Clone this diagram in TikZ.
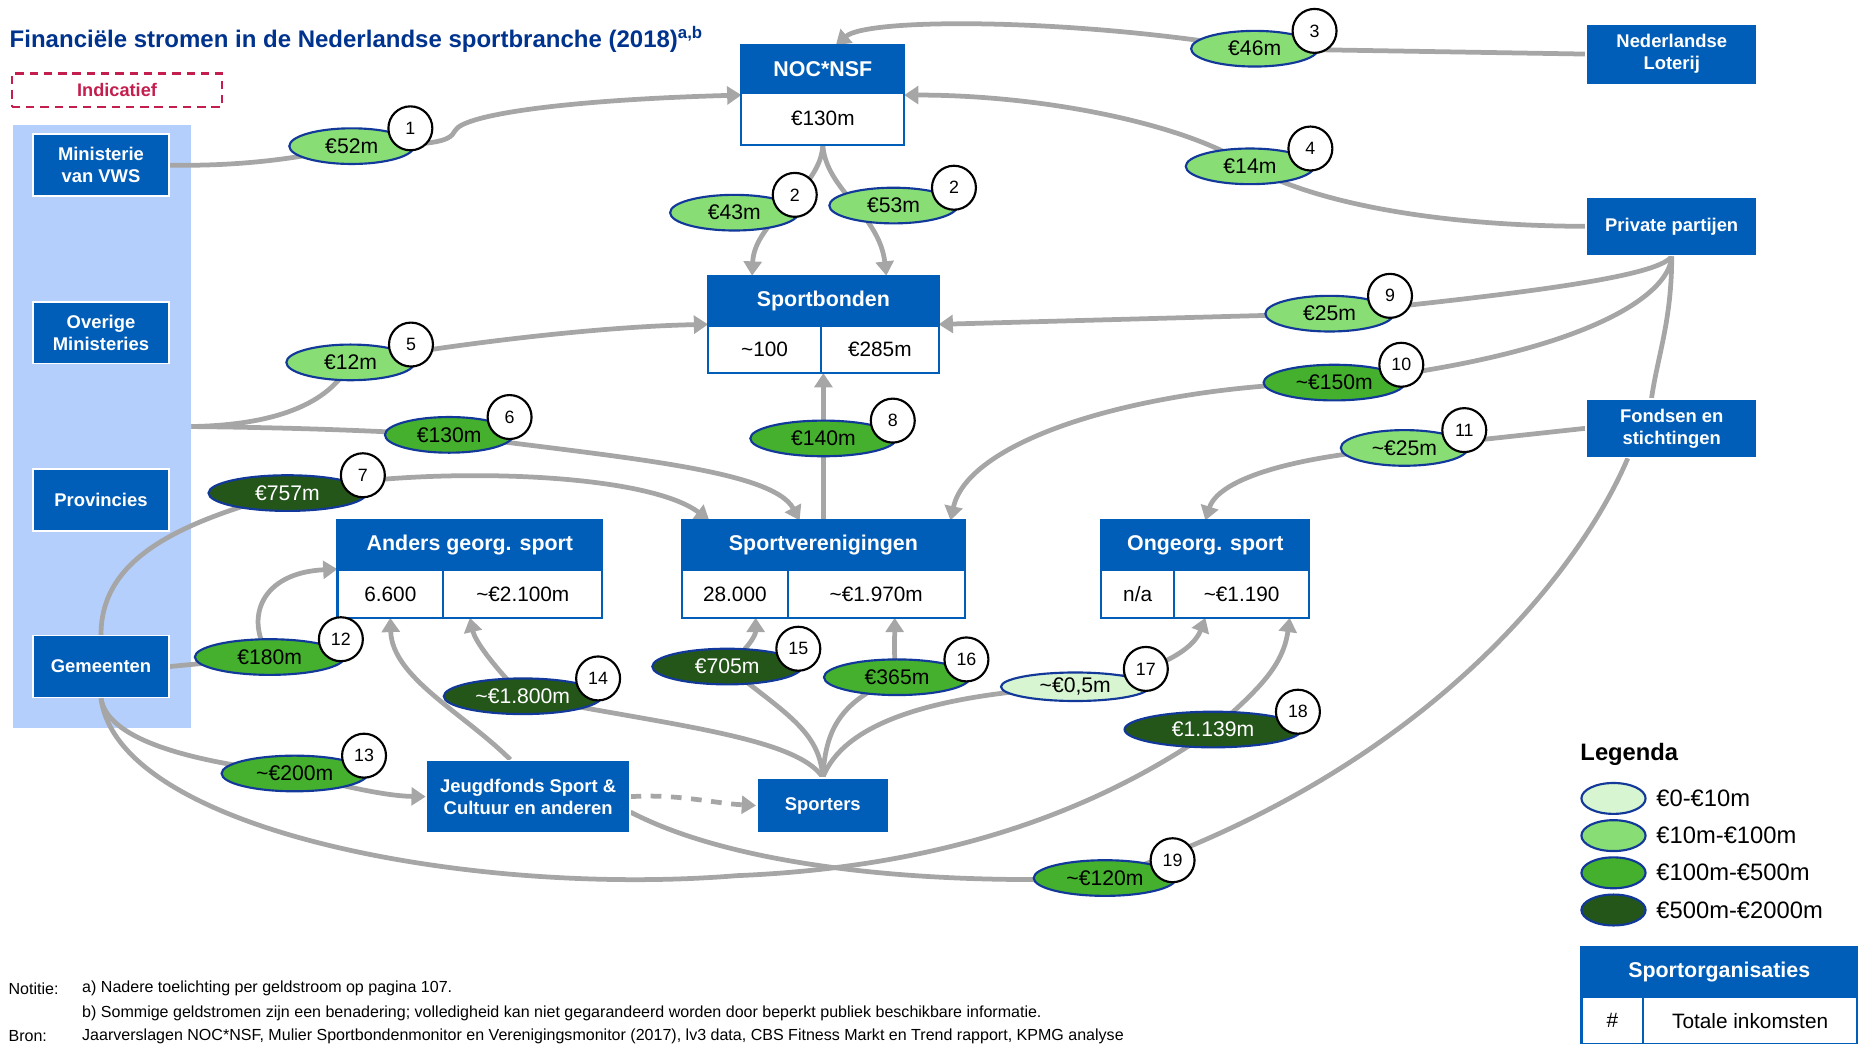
\documentclass[tikz,border=0pt]{standalone}
\usepackage{fontspec}
\setmainfont{Liberation Sans}
\usetikzlibrary{arrows.meta,calc,positioning,fit,backgrounds,shapes.geometric}
\definecolor{kpmgblue}{HTML}{005EB8}
\definecolor{kpmgnavy}{HTML}{00338D}
\definecolor{govblue}{HTML}{B4CFFB}
\definecolor{flowgrey}{HTML}{A6A6A6}
\definecolor{ringblue}{HTML}{12399A}
\definecolor{indicred}{HTML}{C41E4E}
\definecolor{gLight}{HTML}{D6F5D0}
\definecolor{gMid}{HTML}{88DD75}
\definecolor{gGreen}{HTML}{44B02D}
\definecolor{gDark}{HTML}{24561A}
\tikzset{
  actor/.style={
    fill=kpmgblue,
    draw=white,
    line width=1.4pt,
    text=white,
    font=\fontsize{15.5}{18.5}\selectfont\bfseries,
    align=center,
    inner sep=0pt
  },
  orghead/.style={fill=kpmgblue, draw=kpmgblue, line width=1.8pt, text=white,
    font=\fontsize{18}{21}\selectfont\bfseries, minimum height=42pt, inner sep=0pt, outer sep=0pt},
  orgcell/.style={fill=white, draw=kpmgblue, line width=1.8pt,
    font=\fontsize{17.5}{20}\selectfont, minimum height=40pt, inner sep=0pt, outer sep=0pt},
  money/.style={ellipse, draw=ringblue, line width=1.8pt, minimum height=30pt, inner sep=0pt,
    font=\fontsize{17.8}{20}\selectfont},
  lvl0/.style={money, fill=gLight},
  lvl1/.style={money, fill=gMid},
  lvl2/.style={money, fill=gGreen},
  lvl3/.style={money, fill=gDark, text=white},
  tag/.style={circle, draw=black, fill=white, line width=1.8pt, minimum size=37pt, inner sep=0pt,
    font=\fontsize{15}{17}\selectfont},
  legdot/.style={ellipse, draw=ringblue, line width=1.8pt, minimum width=54pt, minimum height=26pt, inner sep=0pt},
  flowline/.style={draw=flowgrey, line width=4pt},
  flowarrow/.style={flowline, -{Triangle[width=15pt,length=12pt]}},
  ttl/.style={font=\fontsize{20.2}{24}\selectfont\bfseries, inner sep=0pt, anchor=west},
  lbl/.style={font=\fontsize{20}{24}\selectfont, inner sep=0pt, anchor=west},
  note/.style={font=\fontsize{13.5}{16}\selectfont, inner sep=0pt, anchor=west},
  indic/.style={draw=indicred, line width=2pt, dash pattern=on 7pt off 5pt, text=indicred,
    minimum width=177pt, minimum height=28pt, font=\fontsize{15.3}{18}\selectfont\bfseries},
}
\newcommand{\Flow}[6]{%
  \node[#4, minimum width=#5] (#1) at (#2) {#3};
  \node[tag] (#1n) at ($(#1.east)+(-4,-15)$) {#6};
}
\newcommand{\OrgBox}[7]{%
  \node[orghead, minimum width=#3, anchor=north west] (#1h) at (#2) {#5};
  \node[orgcell, minimum width=#4, anchor=north west] (#1n) at (#1h.south west) {#6};
  \node[orgcell, minimum width=#3-#4, anchor=north west] (#1v) at (#1n.north east) {#7};
  \node[fit=(#1h)(#1n)(#1v), inner sep=0pt, outer sep=0pt] (#1) {};
}
\begin{document}
\begin{tikzpicture}[x=1pt, y=-1pt]
  \useasboundingbox (0,0) rectangle (1568,878);
  \scoped[on background layer]{\node[fill=govblue, minimum width=150pt, minimum height=508pt,
    inner sep=0pt, outer sep=0pt, anchor=north west] (overheid) at (11,105) {};}

  \node[ttl, text=kpmgnavy] (title) at (8,33) {Financiële stromen in de Nederlandse sportbranche (2018)\textsuperscript{a,b}};
  \node[indic] (indic) at (98.5,76) {Indicatief};

  % actoren
  \foreach \nm/\y/\t in {vws/139/{Ministerie\\van VWS}, ovm/280/{Overige\\Ministeries},
      prov/421/{Provincies}, gem/561/{Gemeenten}} {
    \node[actor, minimum width=114pt, minimum height=52pt] (\nm) at (85,\y) {\t};
  }
  \node[actor, minimum width=144pt, minimum height=51pt] (lot) at (1407,45.5) {Nederlandse\\Loterij};
  \node[actor, minimum width=144pt, minimum height=49pt] (priv) at (1407,190.5) {Private partijen};
  \node[actor, minimum width=144pt, minimum height=49pt] (fond) at (1407,360.5) {Fondsen en\\stichtingen};
  \node[actor, minimum width=171pt, minimum height=61pt] (jf) at (444.5,670.5) {Jeugdfonds Sport \&\\Cultuur en anderen};
  \node[actor, minimum width=111pt, minimum height=46pt] (sp) at (692.5,678) {Sporters};

  % sportorganisaties
  \node[orghead, minimum width=137pt, minimum height=40pt, anchor=north west] (noch) at (624,38) {NOC*NSF};
  \node[orgcell, minimum width=137pt, minimum height=44pt, anchor=north west] (nocv) at (noch.south west) {€130m};
  \node[fit=(noch)(nocv), inner sep=0pt, outer sep=0pt] (noc) {};
  \OrgBox{sb}{596,232}{194pt}{95pt}{Sportbonden}{\textasciitilde100}{€285m}
  \OrgBox{ag}{284,438}{223pt}{89pt}{Anders georg. sport}{6.600}{\textasciitilde€2.100m}
  \OrgBox{sv}{574,438}{238pt}{89pt}{Sportverenigingen}{28.000}{\textasciitilde€1.970m}
  \OrgBox{og}{927,438}{175pt}{61pt}{Ongeorg. sport}{n/a}{\textasciitilde€1.190}

  % geldstromen
  \Flow{f1}{296,123}{€52m}{lvl1}{105pt}{1}
  \Flow{f2a}{618,179}{€43m}{lvl1}{108pt}{2}
  \Flow{f2b}{752,173}{€53m}{lvl1}{108pt}{2}
  \Flow{f3}{1056,41}{€46m}{lvl1}{107pt}{3}
  \Flow{f4}{1052,140}{€14m}{lvl1}{108pt}{4}
  \Flow{f5}{295,305}{€12m}{lvl1}{108pt}{5}
  \Flow{f6}{378,366}{€130m}{lvl2}{108pt}{6}
  \Flow{f7}{242,415}{€757m}{lvl3}{133pt}{7}
  \Flow{f8}{693,369}{€140m}{lvl2}{123pt}{8}
  \Flow{f9}{1119,264}{€25m}{lvl1}{108pt}{9}
  \Flow{f10}{1123,322}{\textasciitilde€150m}{lvl2}{119pt}{10}
  \Flow{f11}{1182,377}{\textasciitilde€25m}{lvl1}{107pt}{11}
  \Flow{f12}{227,553}{€180m}{lvl2}{126pt}{12}
  \Flow{f13}{248,651}{\textasciitilde€200m}{lvl2}{123pt}{13}
  \Flow{f14}{440,586}{\textasciitilde€1.800m}{lvl3}{133pt}{14}
  \Flow{f15}{612,561}{€705m}{lvl3}{126pt}{15}
  \Flow{f16}{755,570}{€365m}{lvl2}{123pt}{16}
  \Flow{f17}{905,578}{\textasciitilde€0,5m}{lvl0, minimum height=24pt}{125pt}{17}
  \Flow{f18}{1021,614}{€1.139m}{lvl3}{149pt}{18}
  \Flow{f19}{930,739}{\textasciitilde€120m}{lvl2}{120pt}{19}

  \begin{scope}[on background layer]
    \draw[flowarrow] (vws.east) .. controls (200,140) and (250,134) .. (f1.center)
      .. controls (365,122) and (378,120) .. (383,110) .. controls (390,96) and (480,84) .. (noc.west);
    \draw[flowarrow] (noc.south) .. controls (691,160) and (635,185) .. ($(sb.north)+(-60,0)$);
    \draw[flowarrow] (noc.south) .. controls (695,160) and (740,180) .. ($(sb.north)+(53,0)$);
    \draw[flowarrow] (lot.west) -- (f3.center) .. controls (900,15) and (730,15) .. ($(noc.north)+(11,0)$);
    \draw[flowarrow] (priv.west) .. controls (1200,190) and (1100,168) .. (f4.center)
      .. controls (1000,105) and (880,80) .. (noc.east);
    \draw[flowarrow] (overheid.east) .. controls (220,358) and (275,345) .. (f5.center)
      .. controls (380,290) and (500,275) .. (sb.west);
    \draw[flowarrow] (overheid.east) .. controls (250,360) and (300,362) .. (f6.center)
      .. controls (520,385) and (650,395) .. ($(sv.north)+(-20,0)$);
    \draw[flowarrow] (gem.north) .. controls (85,470) and (150,440) .. (f7.center)
      .. controls (340,392) and (540,395) .. ($(sv.north)+(-96,0)$);
    \draw[flowarrow] (sv.north) -- (sb.south);
    \draw[flowarrow] (priv.south) .. controls (1395,235) and (1250,250) .. (f9.center) -- (sb.east);
    \draw[flowarrow] (priv.south) .. controls (1405,250) and (1330,300) .. (f10.center)
      .. controls (960,325) and (815,370) .. ($(sv.north)+(107,0)$);
    \draw[flowline] (priv.south) .. controls (1407,270) and (1395,300) .. ($(fond.north)+(-17,0)$);
    \draw[flowarrow] (fond.west) -- (f11.center) .. controls (1080,385) and (1025,405) .. (og.north);
    \draw[flowarrow] (gem.east) -- (f12.center) .. controls (205,520) and (220,482) .. (ag.west);
    \draw[flowarrow] (gem.south) .. controls (90,620) and (150,640) .. (f13.center)
      .. controls (300,665) and (330,670) .. (jf.west);
    \draw[flowarrow] (sp.north) .. controls (670,620) and (560,610) .. (f14.center)
      .. controls (415,560) and (400,540) .. (ag.south);
    \draw[flowarrow] ($(jf.north)+(-15,0)$) .. controls (390,600) and (330,570) .. (agn.south);
    \draw[flowarrow] (sp.north) .. controls (690,615) and (660,600) .. (f15.center)
      .. controls (630,545) and (636,535) .. ($(sv.south)+(-57,0)$);
    \draw[flowarrow] (sp.north) .. controls (695,610) and (710,590) .. (f16.center)
      .. controls (752,555) and (753,540) .. ($(sv.south)+(60,0)$);
    \draw[flowarrow] (sp.north) .. controls (710,610) and (780,585) .. (f17.center)
      .. controls (980,565) and (1005,545) .. (og.south);
    \draw[flowarrow] (gem.south) .. controls (100,700) and (400,755) .. (620,737)
      .. controls (790,730) and (920,685) .. (f18.center)
      .. controls (1060,580) and (1080,560) .. ($(og.south)+(71,0)$);
    \draw[flowline] ($(fond.south)+(-37,0)$) .. controls (1330,480) and (1200,650) .. (f19.center)
      .. controls (780,745) and (620,730) .. ($(jf.east)+(0,13)$);
    \draw[flowarrow, dash pattern=on 9pt off 8pt] (jf.east) .. controls (570,668) and (600,676) .. (sp.west);
  \end{scope}

  % legenda
  \node[ttl, font=\fontsize{20}{24}\selectfont\bfseries] (legtitle) at (1330,635) {Legenda};
  \foreach \c/\t [count=\i] in {gLight/{€0-€10m}, gMid/{€10m-€100m}, gGreen/{€100m-€500m}, gDark/{€500m-€2000m}} {
    \node[legdot, fill=\c] (leg\i) at (1358,{672+31.3*(\i-1)}) {};
    \node[lbl, right=8pt of leg\i] (legt\i) {\t};
  }
  \OrgBox{so}{1331,797}{232pt}{52pt}{Sportorganisaties}{\#}{Totale inkomsten}

  % notities
  \node[note] (notkop) at (7,832) {Notitie:};
  \node[note] (nota) at (69,832) {a) Nadere toelichting per geldstroom op pagina 107.};
  \node[note] (notb) at (69,853) {b) Sommige geldstromen zijn een benadering; volledigheid kan niet gegarandeerd worden door beperkt publiek beschikbare informatie.};
  \node[note] (bronkop) at (7,872) {Bron:};
  \node[note] (bron) at (69,872) {Jaarverslagen NOC*NSF, Mulier Sportbondenmonitor en Verenigingsmonitor (2017), lv3 data, CBS Fitness Markt en Trend rapport, KPMG analyse};
\end{tikzpicture}
\end{document}
